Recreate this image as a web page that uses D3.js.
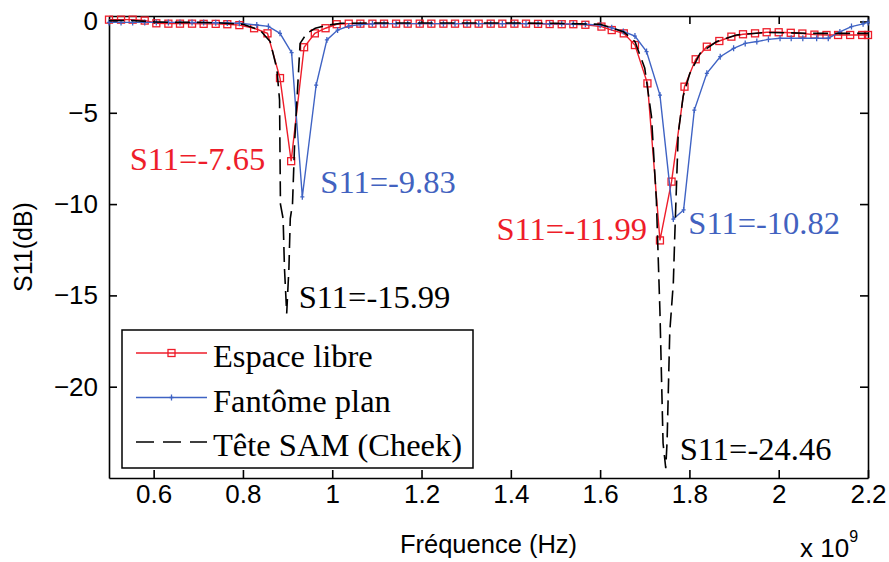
<!DOCTYPE html>
<html>
<head>
<meta charset="utf-8">
<script src="https://cdn.jsdelivr.net/npm/d3@7"></script>
<style>
    body { margin: 0; background: #fff; }
    svg { display: block; }
    .tick text { font-family: "Liberation Sans", Arial, sans-serif; font-size: 26px; fill: #000; }
    .domain, .tick line { stroke: #000; stroke-width: 1.6px; }
</style>
</head>
<body>
<div id="chart"></div>
<script>
// frequencies in GHz (axis shows x 10^9 Hz), S11 in dB
var freqRed = [0.500, 0.527, 0.553, 0.580, 0.606, 0.633, 0.659, 0.686, 0.712, 0.739, 0.765, 0.792, 0.825, 0.855, 0.883, 0.908, 0.937, 0.961, 0.985, 1.010,
    1.037, 1.063, 1.090, 1.116, 1.143, 1.169, 1.196, 1.222, 1.249, 1.275, 1.302, 1.328, 1.355, 1.381, 1.408, 1.434, 1.461, 1.487, 1.514, 1.540,
    1.567, 1.603, 1.626, 1.653, 1.678, 1.706, 1.734, 1.760, 1.789, 1.814, 1.839, 1.867, 1.894, 1.920, 1.947, 1.973, 2.000, 2.027, 2.053, 2.080,
    2.107, 2.133, 2.160, 2.187, 2.200];
var s11Red = [0.10, 0.10, 0.10, 0.05, -0.10, -0.12, -0.12, -0.12, -0.13, -0.13, -0.15, -0.20, -0.37, -0.65, -3.10, -7.65, -1.41, -0.65, -0.37, -0.15,
    -0.12, -0.12, -0.12, -0.12, -0.12, -0.12, -0.12, -0.12, -0.12, -0.12, -0.12, -0.12, -0.12, -0.12, -0.12, -0.12, -0.13, -0.14, -0.15, -0.15,
    -0.18, -0.28, -0.47, -0.65, -1.29, -3.39, -11.99, -8.77, -3.57, -2.07, -1.38, -1.07, -0.83, -0.70, -0.65, -0.59, -0.59, -0.62, -0.66, -0.72,
    -0.74, -0.74, -0.74, -0.74, -0.74];

var freqBlue = [0.500, 0.527, 0.553, 0.580, 0.606, 0.633, 0.659, 0.686, 0.712, 0.739, 0.765, 0.792, 0.831, 0.857, 0.883, 0.909, 0.933, 0.964, 0.988, 1.012,
    1.037, 1.063, 1.090, 1.116, 1.143, 1.169, 1.196, 1.222, 1.249, 1.275, 1.302, 1.328, 1.355, 1.381, 1.408, 1.434, 1.461, 1.487, 1.514, 1.540,
    1.567, 1.600, 1.626, 1.652, 1.678, 1.704, 1.734, 1.764, 1.787, 1.811, 1.839, 1.869, 1.899, 1.925, 1.951, 1.977, 2.003, 2.028, 2.054, 2.085,
    2.111, 2.137, 2.163, 2.189, 2.200];
var s11Blue = [-0.05, -0.05, -0.05, -0.05, -0.05, -0.05, -0.05, -0.06, -0.06, -0.07, -0.08, -0.10, -0.19, -0.27, -0.65, -1.71, -9.60, -3.48, -1.01, -0.47,
    -0.25, -0.17, -0.13, -0.12, -0.12, -0.12, -0.12, -0.12, -0.12, -0.12, -0.12, -0.12, -0.12, -0.12, -0.12, -0.12, -0.12, -0.13, -0.13, -0.14,
    -0.15, -0.20, -0.35, -0.55, -0.80, -1.65, -4.03, -10.82, -10.32, -4.85, -2.84, -1.93, -1.47, -1.20, -1.10, -0.98, -0.92, -0.92, -0.92, -0.92,
    -0.92, -0.57, -0.28, -0.13, -0.05];

var freqBlack = [0.500, 0.550, 0.600, 0.650, 0.700, 0.750, 0.800, 0.838, 0.861, 0.876, 0.882, 0.884, 0.890, 0.893, 0.898, 0.903, 0.906, 0.911, 0.916, 0.928,
    0.943, 0.962, 0.990, 1.020, 1.100, 1.200, 1.300, 1.400, 1.500, 1.600, 1.652, 1.678, 1.700, 1.715, 1.726, 1.734, 1.741, 1.747, 1.750, 1.756,
    1.764, 1.767, 1.775, 1.786, 1.801, 1.824, 1.861, 1.905, 1.973, 2.080, 2.200];
var s11Black = [0.05, 0.05, -0.02, -0.05, -0.05, -0.08, -0.15, -0.47, -1.10, -2.60, -4.30, -10.00, -10.80, -13.50, -15.99, -13.50, -10.80, -10.00, -6.50, -1.20,
    -0.65, -0.37, -0.20, -0.10, -0.08, -0.08, -0.08, -0.08, -0.10, -0.15, -0.56, -1.10, -2.56, -5.20, -9.78, -15.90, -23.10, -24.46, -23.00, -17.00,
    -14.30, -11.90, -6.12, -4.10, -2.84, -1.74, -1.10, -0.74, -0.60, -0.65, -0.65];

var seriesNames = ["Espace libre", "Fantôme plan", "Tête SAM (Cheek)"];
var seriesColors = ["#ee1d2a", "#3f63c4", "#000000"];

var xTicks = [0.6, 0.8, 1, 1.2, 1.4, 1.6, 1.8, 2, 2.2];
var yTicks = [0, -5, -10, -15, -20];

// annotated minima: series index, frequency, value
var noteSeries = [0, 1, 2, 0, 1, 2];
var noteFreq = [0.908, 0.933, 0.898, 1.734, 1.764, 1.747];
var noteValue = [-7.65, -9.60, -15.99, -11.99, -10.82, -24.46];
var noteText = ["S11=-7.65", "S11=-9.83", "S11=-15.99", "S11=-11.99", "S11=-10.82", "S11=-24.46"];

(function() {
    var W = 889, H = 562;
    var margin = { top: 16, left: 109, right: 21, bottom: 84 },
        width = W - margin.left - margin.right,
        height = H - margin.top - margin.bottom;

    var svg = d3.select("#chart").append("svg")
        .attr("width", W)
        .attr("height", H);

    var g = svg.append("g")
        .attr("transform", "translate(" + margin.left + "," + margin.top + ")");

    var x = d3.scaleLinear().domain([0.5, 2.2]).range([0, width]);
    var y = d3.scaleLinear().domain([-25, 0.3]).range([height, 0]);

    var serif = "'Liberation Serif', 'Times New Roman', serif";
    var sans = "'Liberation Sans', Arial, sans-serif";

    // axes with inward ticks on all four sides
    g.append("g")
        .attr("transform", "translate(0," + height + ")")
        .call(d3.axisBottom(x).tickValues(xTicks).tickFormat(d3.format("~g"))
            .tickSizeInner(-8).tickSizeOuter(0).tickPadding(7));
    g.append("g")
        .call(d3.axisTop(x).tickValues(xTicks).tickFormat("")
            .tickSizeInner(-8).tickSizeOuter(0));
    g.append("g")
        .call(d3.axisLeft(y).tickValues(yTicks)
            .tickSizeInner(-8).tickSizeOuter(0).tickPadding(11));
    g.append("g")
        .attr("transform", "translate(" + width + ",0)")
        .call(d3.axisRight(y).tickValues(yTicks).tickFormat("")
            .tickSizeInner(-8).tickSizeOuter(0));

    var line = d3.line()
        .x(d => x(d[0]))
        .y(d => y(d[1]));

    var red = d3.zip(freqRed, s11Red),
        blue = d3.zip(freqBlue, s11Blue),
        black = d3.zip(freqBlack, s11Black);

    g.append("path").datum(red)
        .attr("d", line)
        .attr("fill", "none")
        .attr("stroke", seriesColors[0])
        .attr("stroke-width", 1.4);
    g.selectAll(".sq").data(red).enter().append("rect")
        .attr("class", "sq")
        .attr("x", d => x(d[0]) - 3.5)
        .attr("y", d => y(d[1]) - 3.5)
        .attr("width", 7).attr("height", 7)
        .attr("fill", "none")
        .attr("stroke", seriesColors[0])
        .attr("stroke-width", 1.3);

    g.append("path").datum(blue)
        .attr("d", line)
        .attr("fill", "none")
        .attr("stroke", seriesColors[1])
        .attr("stroke-width", 1.4);
    g.selectAll(".pl").data(blue).enter().append("path")
        .attr("class", "pl")
        .attr("d", d => "M" + (x(d[0]) - 2) + "," + y(d[1]) + "h4M" + x(d[0]) + "," + (y(d[1]) - 3) + "v6")
        .attr("stroke", seriesColors[1])
        .attr("stroke-width", 1.3);

    g.append("path").datum(black)
        .attr("d", line)
        .attr("fill", "none")
        .attr("stroke", seriesColors[2])
        .attr("stroke-width", 1.6)
        .attr("stroke-dasharray", "15,7");

    // notes on the minima
    var noteDx = [-26, 18, 12, -13, 15, 14],
        noteDy = [9, -4, -5, 0, 15, -8],
        noteAnchor = ["end", "start", "start", "end", "start", "start"];
    var noteColors = ["#ee1d2a", "#4262c0", "#000000"];
    noteText.forEach(function(t, i) {
        g.append("text")
            .attr("x", x(noteFreq[i]) + noteDx[i])
            .attr("y", y(noteValue[i]) + noteDy[i])
            .attr("text-anchor", noteAnchor[i])
            .attr("font-family", serif)
            .attr("font-size", 32.5)
            .attr("fill", noteColors[noteSeries[i]])
            .text(t);
    });

    // legend
    var lg = g.append("g").attr("transform", "translate(13,314)");
    lg.append("rect")
        .attr("width", 351).attr("height", 138)
        .attr("fill", "#fff")
        .attr("stroke", "#000")
        .attr("stroke-width", 1.5);
    seriesNames.forEach(function(name, i) {
        var row = lg.append("g").attr("transform", "translate(0," + (23 + i * 44.5) + ")");
        row.append("line")
            .attr("x1", 14).attr("x2", 85)
            .attr("stroke", seriesColors[i])
            .attr("stroke-width", i == 2 ? 1.6 : 1.4)
            .attr("stroke-dasharray", i == 2 ? "18,9" : null);
        if (i == 0) {
            row.append("rect").attr("x", 46).attr("y", -3.5).attr("width", 7).attr("height", 7)
                .attr("fill", "none").attr("stroke", seriesColors[0]).attr("stroke-width", 1.3);
        } else if (i == 1) {
            row.append("path").attr("d", "M47.5,0h4M49.5,-3v6")
                .attr("stroke", seriesColors[1]).attr("stroke-width", 1.3);
        }
        row.append("text")
            .attr("x", 91).attr("y", 14)
            .attr("font-family", serif)
            .attr("font-size", 32.5)
            .text(name);
    });

    // axis titles
    svg.append("text")
        .attr("x", margin.left + width / 2)
        .attr("y", 553)
        .attr("text-anchor", "middle")
        .attr("font-family", sans)
        .attr("font-size", 25.5)
        .text("Fréquence (Hz)");
    svg.append("text")
        .attr("transform", "translate(32," + (margin.top + height / 2) + ") rotate(-90)")
        .attr("text-anchor", "middle")
        .attr("font-family", sans)
        .attr("font-size", 25)
        .text("S11(dB)");
    var mult = svg.append("text")
        .attr("x", 800)
        .attr("y", 557)
        .attr("font-family", sans)
        .attr("font-size", 26);
    mult.append("tspan").text("x 10");
    mult.append("tspan").attr("dy", -15).attr("font-size", 16).text("9");
})();
</script>
</body>
</html>
